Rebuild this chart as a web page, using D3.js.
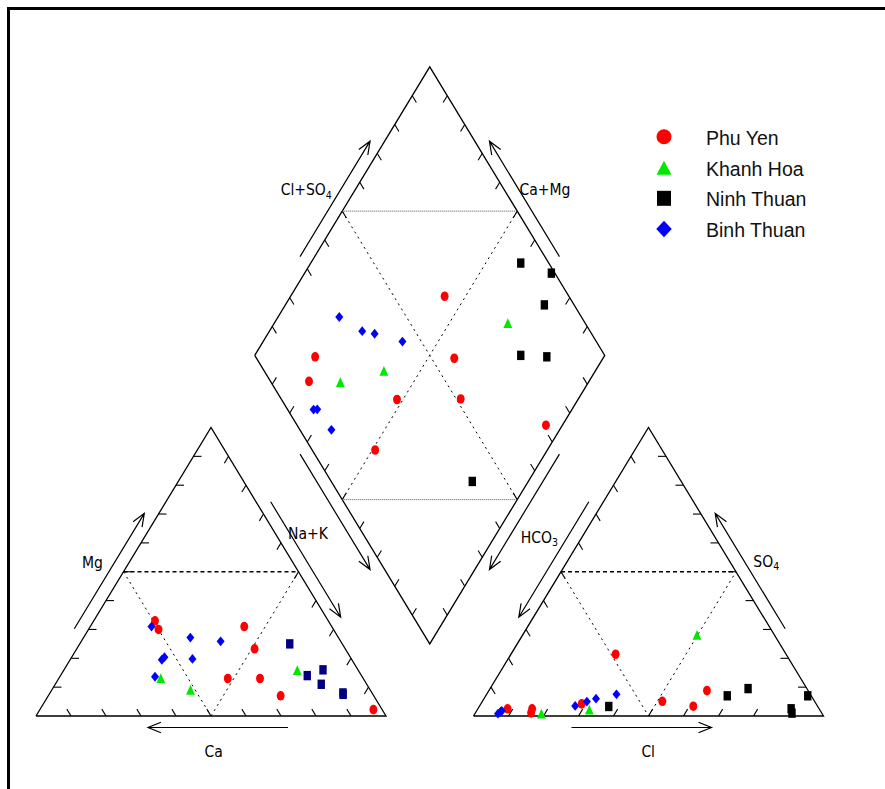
<!DOCTYPE html>
<html>
<head>
<meta charset="utf-8">
<script src="https://cdn.jsdelivr.net/npm/d3@7"></script>
<style>
  html, body { margin: 0; padding: 0; background: #fff; }
  svg { display: block; }
</style>
</head>
<body>
<svg id="chart" width="885" height="789"></svg>
<script>
// Sampling provinces, in legend order
const groups = ["Phu Yen", "Khanh Hoa", "Ninh Thuan", "Binh Thuan"];
const groupColors = ["#ff0000", "#00e800", "#000000", "#0000ff"];
const groupShapes = ["circle", "triangle", "square", "diamond"];

// One entry per water sample (percent of meq/L)
const sampleGroup = [0, 0, 0, 0, 0, 0, 0, 0,  1, 1, 1,  2, 2, 2, 2, 2, 2,  3, 3, 3, 3, 3, 3, 3];
const ca   = [25.0, 49.5, 29.5, 50.0, 38.7, 26.6,  2.5, 25.9,  17.4, 51.3, 57.8,  15.0, 15.5, 10.0, 13.0,  8.3,  8.5,  51.5, 53.1, 42.3, 34.3, 54.3, 59.2, 45.4];
const mg   = [31.0, 33.0, 13.0, 30.0, 13.0,  7.0,  2.2, 23.3,  15.9,  9.1, 13.1,  25.0, 14.0, 16.0, 11.0,  8.0,  7.5,  31.0, 20.4, 27.2, 25.9, 19.5, 13.6, 19.8];
const naK  = [44.0, 17.5, 57.5, 20.0, 48.3, 66.4, 95.3, 50.8,  66.7, 39.6, 29.1,  60.0, 70.5, 74.0, 76.0, 83.7, 84.0,  17.5, 26.5, 30.5, 39.8, 26.2, 27.2, 34.8];
const hco3 = [35.5, 83.0, 43.5, 89.0, 67.0, 48.7, 28.9, 82.0,  22.1, 65.8, 80.2,   8.0,  1.0,  8.5, 24.0, 16.8, 59.7,  69.2, 65.1, 62.0, 55.4, 92.6, 91.5, 91.0];
const cl   = [61.1, 15.9, 51.4,  8.5, 28.8, 29.9, 62.3, 15.5,  49.8, 32.0, 19.0,  89.5, 92.0, 90.5, 69.0, 73.7, 37.0,  27.3, 29.9, 32.0, 37.1,  6.6,  7.0,  7.2];
const so4  = [ 3.4,  1.1,  5.1,  2.5,  4.2, 21.4,  8.8,  2.5,  28.1,  2.2,  0.8,   2.5,  7.0,  1.0,  7.0,  9.5,  3.3,   3.5,  5.0,  6.0,  7.5,  0.8,  1.5,  1.8];

// Axis captions
const captions = ["Mg", "Na+K", "Ca", "Cl", "HCO3", "SO4", "Cl+SO4", "Ca+Mg"];

const svg = d3.select("#chart");

// Layout units: x in triangle side lengths, y in triangle heights
const GAP = 0.25;
const X = d3.scaleLinear().domain([0, 2.25]).range([36, 823.5]);
const Y = d3.scaleLinear().domain([0, 2.25]).range([716, 716 - 2.25 * 288.5]);
const P = ([u, v]) => [X(u), Y(v)];

// Corners
const A = [0, 0], B = [1, 0], T = [0.5, 1];                    // cation triangle
const C = [1 + GAP, 0], D = [2 + GAP, 0], S = [1.5 + GAP, 1];  // anion triangle
const DL = [0.5 + GAP / 2, 1 + GAP], DT = [1 + GAP / 2, 2 + GAP],
      DR = [1.5 + GAP / 2, 1 + GAP], DB = [1 + GAP / 2, GAP]; // diamond

const lerp = (p, q, t) => [p[0] + (q[0] - p[0]) * t, p[1] + (q[1] - p[1]) * t];
const unit = (p, q) => { const a = P(p), b = P(q); const dx = b[0] - a[0], dy = b[1] - a[1]; const l = Math.hypot(dx, dy); return [dx / l, dy / l]; };
const e1 = unit(A, T);   // along "/" edges, upward
const e2 = unit(T, B);   // along "\" edges, downward
const neg = v => [-v[0], -v[1]];

// Sample positions in the three fields
function cationPos(i) {
  const t = ca[i] + mg[i] + naK[i];
  const m = mg[i] / t, n = naK[i] / t;
  return [n + m / 2, m];
}
function anionPos(i) {
  const t = hco3[i] + cl[i] + so4[i];
  const s = so4[i] / t, c = cl[i] / t;
  return [1 + GAP + c + s / 2, s];
}
function diamondPos(i) {
  const a = naK[i] / (ca[i] + mg[i] + naK[i]);
  const b = (cl[i] + so4[i]) / (hco3[i] + cl[i] + so4[i]);
  return [1 + GAP / 2 + 0.5 * (a + b - 1), GAP + 1 - a + b];
}

const line = d3.line();

// ---- outlines
const outlines = [[A, B, T, A], [C, D, S, C], [DL, DT, DR, DB, DL]];
svg.append("g").selectAll("path").data(outlines).join("path")
  .attr("d", d => line(d.map(P)))
  .attr("fill", "none").attr("stroke", "#000").attr("stroke-width", 1.3)
  .attr("stroke-linejoin", "miter");

// ---- ticks at every 10 %
const tickEdges = [
  [A, B, neg(e2)], [A, T, [1, 0]], [T, B, neg(e1)],
  [C, D, e1], [C, S, e2], [D, S, [-1, 0]],
  [DL, DT, e2], [DR, DT, neg(e1)], [DL, DB, e1], [DR, DB, neg(e2)]
];
const ticks = [];
tickEdges.forEach(([p, q, dir]) => {
  d3.range(1, 10).forEach(k => {
    const s = P(lerp(p, q, k / 10));
    ticks.push([s, [s[0] + dir[0] * 8, s[1] + dir[1] * 8]]);
  });
});
svg.append("g").selectAll("path").data(ticks).join("path")
  .attr("d", d => line(d))
  .attr("stroke", "#000").attr("stroke-width", 1.1);

// ---- subdivision lines
const dashed = [
  [lerp(A, T, 0.5), lerp(T, B, 0.5)],
  [lerp(C, S, 0.5), lerp(S, D, 0.5)]
];
const dotted = [
  [lerp(A, T, 0.5), lerp(A, B, 0.5)], [lerp(A, B, 0.5), lerp(T, B, 0.5)],
  [lerp(C, S, 0.5), lerp(C, D, 0.5)], [lerp(C, D, 0.5), lerp(S, D, 0.5)],
  [lerp(DL, DT, 0.5), lerp(DR, DB, 0.5)], [lerp(DR, DT, 0.5), lerp(DL, DB, 0.5)]
];
const fine = [
  [lerp(DL, DT, 0.5), lerp(DR, DT, 0.5)],
  [lerp(DL, DB, 0.5), lerp(DR, DB, 0.5)]
];
svg.append("g").selectAll("path").data(dashed).join("path")
  .attr("d", d => line(d.map(P)))
  .attr("stroke", "#000").attr("stroke-width", 1.4).attr("stroke-dasharray", "4,3");
svg.append("g").selectAll("path").data(dotted).join("path")
  .attr("d", d => line(d.map(P)))
  .attr("stroke", "#000").attr("stroke-width", 1).attr("stroke-dasharray", "2,4");
svg.append("g").selectAll("path").data(fine).join("path")
  .attr("d", d => line(d.map(P)))
  .attr("stroke", "#555").attr("stroke-width", 1).attr("stroke-dasharray", "1,1");

// ---- direction arrows beside the edges
const arrows = [
  { p: A, q: T, t0: 0.28, t1: 0.68, n: [-e2[1], -e2[0]], off: 12.5 },
  { p: T, q: B, t0: 0.28, t1: 0.68, n: [e2[1], -e2[0]], off: 12.5 },
  { p: B, q: A, t0: 0.28, t1: 0.68, n: [0, 1], off: 11.5 },
  { p: S, q: C, t0: 0.28, t1: 0.68, n: [-e2[1], -e2[0]], off: 12.5 },
  { p: D, q: S, t0: 0.28, t1: 0.68, n: [e2[1], -e2[0]], off: 12.5 },
  { p: C, q: D, t0: 0.28, t1: 0.68, n: [0, 1], off: 11.5 },
  { p: DL, q: DT, t0: 0.32, t1: 0.72, n: [-e2[1], -e2[0]], off: 12.5 },
  { p: DR, q: DT, t0: 0.32, t1: 0.72, n: [e2[1], -e2[0]], off: 12.5 },
  { p: DL, q: DB, t0: 0.32, t1: 0.72, n: [-e2[1], e2[0]], off: 12.5 },
  { p: DR, q: DB, t0: 0.32, t1: 0.72, n: [e2[1], e2[0]], off: 12.5 }
];
function arrowPath(a) {
  const s0 = P(lerp(a.p, a.q, a.t0)), s1 = P(lerp(a.p, a.q, a.t1));
  const s = [s0[0] + a.n[0] * a.off, s0[1] + a.n[1] * a.off];
  const e = [s1[0] + a.n[0] * a.off, s1[1] + a.n[1] * a.off];
  const dx = e[0] - s[0], dy = e[1] - s[1], l = Math.hypot(dx, dy);
  const ux = dx / l, uy = dy / l, L = 14, ang = 22 * Math.PI / 180;
  const rot = (x, y, t) => [x * Math.cos(t) - y * Math.sin(t), x * Math.sin(t) + y * Math.cos(t)];
  const r1 = rot(ux, uy, ang), r2 = rot(ux, uy, -ang);
  const h1 = [e[0] - r1[0] * L, e[1] - r1[1] * L], h2 = [e[0] - r2[0] * L, e[1] - r2[1] * L];
  return `M${s}L${e}M${h1}L${e}L${h2}`;
}
svg.append("g").selectAll("path").data(arrows).join("path")
  .attr("d", arrowPath)
  .attr("fill", "none").attr("stroke", "#000").attr("stroke-width", 1.2);

// ---- captions
const captionFont = "'Liberation Sans Narrow', 'Arial Narrow', 'DejaVu Sans Condensed', sans-serif";
const captionPlace = [
  { x: 92.5, y: 567.5, anchor: "middle" },
  { x: 308, y: 538.5, anchor: "middle" },
  { x: 213.6, y: 756.5, anchor: "middle" },
  { x: 648.2, y: 756.5, anchor: "middle" },
  { x: 520.7, y: 542.7, anchor: "start" },
  { x: 753.3, y: 566.7, anchor: "start" },
  { x: 280.7, y: 195, anchor: "start" },
  { x: 545, y: 195, anchor: "middle" }
];
const capG = svg.append("g").attr("font-family", captionFont).attr("font-size", 15.5).attr("fill", "#000");
captions.forEach((c, i) => {
  const pl = captionPlace[i];
  const m = c.match(/^(.*?)(\d)$/);
  const t = capG.append("text").attr("x", pl.x).attr("y", pl.y).attr("text-anchor", pl.anchor);
  if (m) {
    t.append("tspan").text(m[1]);
    t.append("tspan").attr("font-size", 10.5).attr("dy", 3.5).text(m[2]);
  } else {
    t.text(c);
  }
});

// ---- sample markers
function shapePath(shape, w, h) {
  const hw = w / 2, hh = h / 2;
  switch (shape) {
    case "circle":   return `M${-hw},0A${hw},${hh} 0 1,0 ${hw},0A${hw},${hh} 0 1,0 ${-hw},0Z`;
    case "triangle": return `M0,${-hh}L${hw},${hh}L${-hw},${hh}Z`;
    case "square":   return `M${-hw},${-hh}H${hw}V${hh}H${-hw}Z`;
    default:         return `M0,${-hh}L${hw},0L0,${hh}L${-hw},0Z`;
  }
}
const markSize = { circle: [7.9, 9.6], triangle: [8.8, 9.8], square: [7.4, 9.4], diamond: [8, 9.8] };
const cationSquareColor = "#000080";

const idx = d3.range(sampleGroup.length);
const fields = [
  { pos: cationPos, cation: true },
  { pos: anionPos, cation: false },
  { pos: diamondPos, cation: false }
];
fields.forEach(f => {
  svg.append("g").selectAll("path").data(idx).join("path")
    .attr("transform", i => `translate(${P(f.pos(i))})`)
    .attr("d", i => { const sh = groupShapes[sampleGroup[i]]; return shapePath(sh, ...markSize[sh]); })
    .attr("fill", i => (f.cation && sampleGroup[i] === 2) ? cationSquareColor : groupColors[sampleGroup[i]]);
});

// ---- legend
const legend = svg.append("g").attr("transform", "translate(664,0)");
const legendY = [136.8, 167.8, 198.3, 229];
const legendSize = { circle: [15, 15], triangle: [15, 14], square: [14, 15], diamond: [15.5, 16.5] };
groups.forEach((g, k) => {
  const sh = groupShapes[k];
  legend.append("path")
    .attr("transform", `translate(0,${legendY[k]})`)
    .attr("d", shapePath(sh, ...legendSize[sh]))
    .attr("fill", groupColors[k]);
  legend.append("text")
    .attr("x", 42).attr("y", legendY[k] + 7.8)
    .attr("font-family", "'Liberation Sans', Arial, sans-serif")
    .attr("font-size", 19.5).attr("fill", "#111")
    .text(g);
});

// ---- frame
svg.append("path")
  .attr("d", "M8.5,900V8.5H900")
  .attr("fill", "none").attr("stroke", "#000").attr("stroke-width", 3);
</script>
</body>
</html>
